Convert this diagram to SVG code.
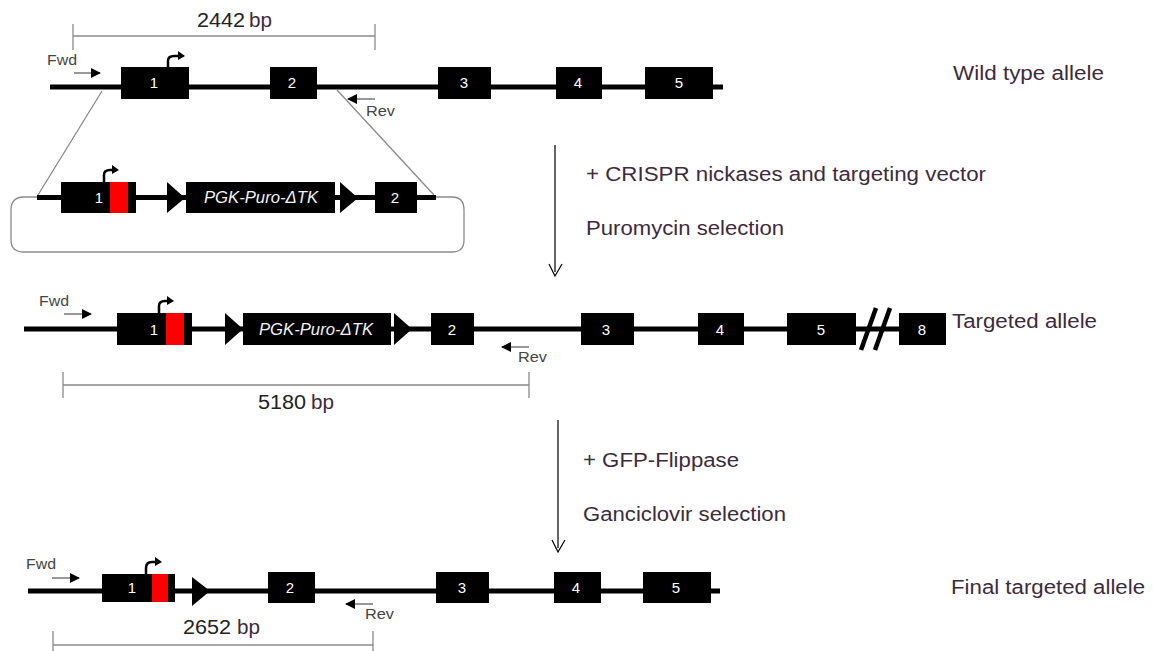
<svg xmlns="http://www.w3.org/2000/svg" width="1153" height="651" viewBox="0 0 1153 651">
<style>
text{font-family:"Liberation Sans",Arial,sans-serif}
.b{fill:#000}
.n{fill:#fff;font-size:15px;text-anchor:middle}
.i{fill:#f4f4f4;font-size:16px;font-style:italic}
.r{fill:#f00}
.bb{stroke:#000;stroke-width:5;fill:none}
.g{stroke:#8a8a8a;stroke-width:1.3;fill:none}
.h{stroke:#000;stroke-width:1.2;fill:none}
.p{stroke:#777;stroke-width:1.5;fill:none}
.s{fill:#444;font-size:14px}
.l{fill:#3d2b3d;font-size:20px}
.m{fill:#222;font-size:20px}
.tss{stroke:#000;stroke-width:2.5;fill:none}
</style>
<defs>
<marker id="a" markerWidth="11" markerHeight="10" refX="9" refY="5" orient="auto" markerUnits="userSpaceOnUse"><path d="M0 0L10 5L0 10z" fill="#000"/></marker>
</defs>
<g id="connectors">
<path class="g" d="M73 24V50M73 36H375M375 24V50"/>
<path class="g" d="M63 372V398M63 385H529M529 372V398"/>
<path class="g" d="M53 631V651M53 645H373M373 631V651"/>
<path class="g" d="M102 91L38 195M337 90L434 195"/>
<path class="g" d="M38 197H24Q11 197 11 210V240Q11 252 24 252H452Q464 252 464 240V210Q464 197 452 197H436"/>
<path class="h" d="M555 145V272M549 264L555 276L562 264"/>
<path class="h" d="M558 420V548M552 540L558 552L565 540"/>
<path class="p" d="M74 73H100" marker-end="url(#a)"/>
<path class="p" d="M375 99H348" marker-end="url(#a)"/>
<path class="p" d="M64 314H91" marker-end="url(#a)"/>
<path class="p" d="M529 347H502" marker-end="url(#a)"/>
<path class="p" d="M52 578H79" marker-end="url(#a)"/>
<path class="p" d="M373 604H346" marker-end="url(#a)"/>
</g>
<g id="wild-type-allele">
<path class="bb" d="M50 87H723"/>
<rect class="b" x="121" y="67" width="68" height="32"/><text class="n" x="154" y="88">1</text>
<rect class="b" x="270" y="67" width="47" height="32"/><text class="n" x="292" y="88">2</text>
<rect class="b" x="438" y="67" width="53" height="32"/><text class="n" x="464" y="88">3</text>
<rect class="b" x="556" y="67" width="46" height="32"/><text class="n" x="578" y="88">4</text>
<rect class="b" x="645" y="67" width="68" height="32"/><text class="n" x="679" y="88">5</text>
<path class="tss" d="M168 67V61Q168 56 174 56H180"/><path d="M178 51L185 56L178 60z"/>
<text class="m" x="197" y="27" textLength="48" lengthAdjust="spacingAndGlyphs">2442</text><text class="l" x="249" y="27" textLength="23" lengthAdjust="spacingAndGlyphs">bp</text>
<text class="s" x="47" y="65" textLength="30" lengthAdjust="spacingAndGlyphs">Fwd</text><text class="s" x="366" y="116" textLength="29" lengthAdjust="spacingAndGlyphs">Rev</text>
<text class="l" x="953" y="80" textLength="151" lengthAdjust="spacingAndGlyphs">Wild type allele</text>
</g>
<g id="targeting-vector">
<path class="bb" d="M37 197.500H436"/>
<rect class="b" x="61" y="182" width="75" height="31"/><rect class="r" x="110" y="182" width="18" height="31"/><text class="n" x="99" y="203">1</text>
<path class="b" d="M167 182L185 198L167 213z"/>
<rect class="b" x="186" y="182" width="149" height="31"/><text class="i" x="204" y="203" textLength="114" lengthAdjust="spacingAndGlyphs">PGK-Puro-ΔTK</text>
<path class="b" d="M340 182L358 198L340 213z"/>
<rect class="b" x="375" y="182" width="42" height="31"/><text class="n" x="395" y="203">2</text>
<path class="tss" d="M104 182V175Q104 170 110 170H114"/><path d="M112 165L119 170L112 174z"/>
</g>
<g id="targeted-allele">
<path class="bb" d="M24 329H900"/>
<rect class="b" x="117" y="313" width="75" height="32"/><rect class="r" x="166" y="313" width="18" height="32"/><text class="n" x="154" y="335">1</text>
<path class="b" d="M225 313L243 329L225 345z"/>
<rect class="b" x="243" y="313" width="148" height="32"/><text class="i" x="259" y="335" textLength="114" lengthAdjust="spacingAndGlyphs">PGK-Puro-ΔTK</text>
<path class="b" d="M394 313L412 329L394 345z"/>
<rect class="b" x="431" y="313" width="43" height="32"/><text class="n" x="452" y="335">2</text>
<rect class="b" x="581" y="313" width="53" height="32"/><text class="n" x="606" y="335">3</text>
<rect class="b" x="698" y="313" width="46" height="32"/><text class="n" x="720" y="335">4</text>
<rect class="b" x="787" y="313" width="69" height="32"/><text class="n" x="821" y="335">5</text>
<rect class="b" x="899" y="313" width="47" height="32"/><text class="n" x="922" y="335">8</text>
<path d="M861 350L876 308M875 350L890 308" stroke="#000" stroke-width="4.500" fill="none"/>
<path class="tss" d="M159 313V306Q159 301 165 301H169"/><path d="M167 296L174 301L167 305z"/>
<text class="m" x="258" y="409" textLength="48" lengthAdjust="spacingAndGlyphs">5180</text><text class="l" x="311" y="409" textLength="23" lengthAdjust="spacingAndGlyphs">bp</text>
<text class="s" x="39" y="306" textLength="30" lengthAdjust="spacingAndGlyphs">Fwd</text><text class="s" x="518" y="362" textLength="29" lengthAdjust="spacingAndGlyphs">Rev</text>
<text class="l" x="952" y="328" textLength="145" lengthAdjust="spacingAndGlyphs">Targeted allele</text>
</g>
<g id="final-targeted-allele">
<path class="bb" d="M28 591H720"/>
<rect class="b" x="102" y="574" width="73" height="28"/><rect class="r" x="152" y="574" width="16" height="28"/><text class="n" x="132" y="593">1</text>
<path class="b" d="M192 577L210 591L192 606z"/>
<rect class="b" x="268" y="572" width="47" height="31"/><text class="n" x="290" y="593">2</text>
<rect class="b" x="436" y="572" width="53" height="31"/><text class="n" x="462" y="593">3</text>
<rect class="b" x="554" y="572" width="47" height="31"/><text class="n" x="576" y="593">4</text>
<rect class="b" x="643" y="572" width="68" height="31"/><text class="n" x="676" y="593">5</text>
<path class="tss" d="M146 574V568Q146 562 152 562H157"/><path d="M155 557L162 562L155 566z"/>
<text class="m" x="183" y="634" textLength="48" lengthAdjust="spacingAndGlyphs">2652</text><text class="l" x="237" y="634" textLength="23" lengthAdjust="spacingAndGlyphs">bp</text>
<text class="s" x="26" y="569" textLength="30" lengthAdjust="spacingAndGlyphs">Fwd</text><text class="s" x="365" y="619" textLength="29" lengthAdjust="spacingAndGlyphs">Rev</text>
<text class="l" x="951" y="594" textLength="194" lengthAdjust="spacingAndGlyphs">Final targeted allele</text>
</g>
<g id="step-labels">
<text class="l" x="586" y="181" textLength="400" lengthAdjust="spacingAndGlyphs">+ CRISPR nickases and targeting vector</text>
<text class="l" x="586" y="235" textLength="198" lengthAdjust="spacingAndGlyphs">Puromycin selection</text>
<text class="l" x="583" y="467" textLength="156" lengthAdjust="spacingAndGlyphs">+ GFP-Flippase</text>
<text class="l" x="583" y="521" textLength="203" lengthAdjust="spacingAndGlyphs">Ganciclovir selection</text>
</g>
</svg>
